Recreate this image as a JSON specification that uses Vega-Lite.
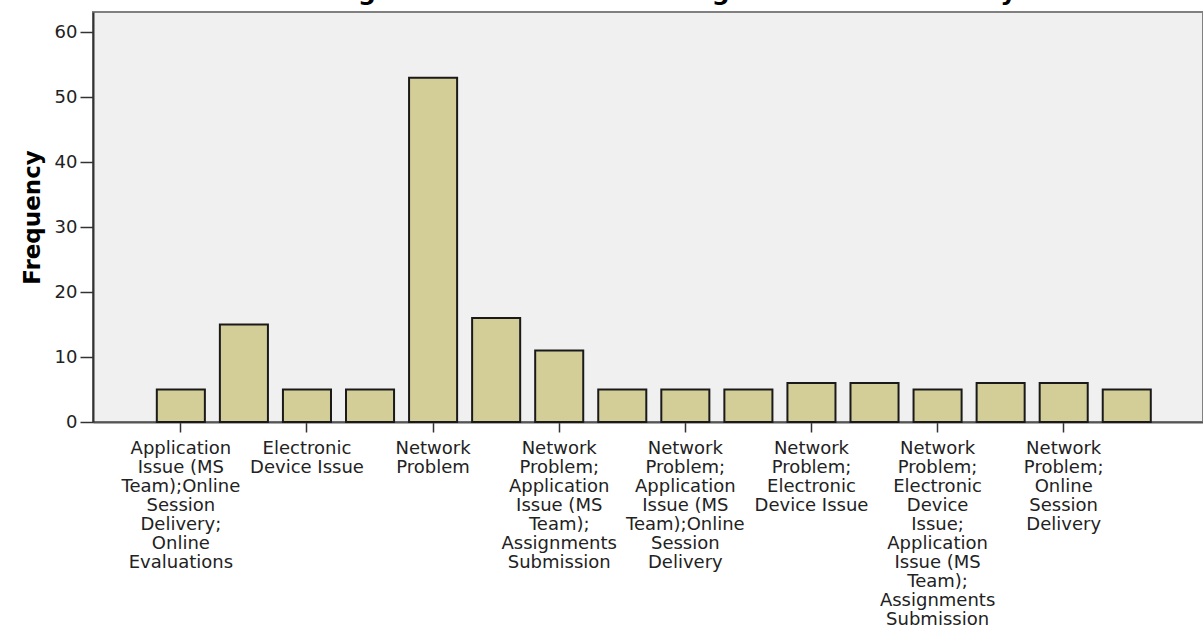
{
  "$schema": "https://vega.github.io/schema/vega-lite/v6.json",
  "autosize": {"type": "none"},
  "padding": {"left": 93, "top": 12, "right": 0, "bottom": 205},
  "width": 1110,
  "height": 410,
  "background": "white",
  "title": {
    "text": "B. What are the challenges or issues faced during online sessions at your end?",
    "font": "DejaVu Sans",
    "fontWeight": "bold",
    "fontSize": 25,
    "color": "#000000",
    "anchor": "middle",
    "baseline": "alphabetic",
    "offset": -13,
    "dx": -65
  },
  "data": {
    "values": [
      {"challenge": "Application\nIssue (MS\nTeam);Online\nSession\nDelivery;\nOnline\nEvaluations", "frequency": 5},
      {"challenge": "Assignments\nSubmission", "frequency": 15},
      {"challenge": "Electronic\nDevice Issue", "frequency": 5},
      {"challenge": "Electronic\nDevice Issue;\nOnline\nSession\nDelivery", "frequency": 5},
      {"challenge": "Network\nProblem", "frequency": 53},
      {"challenge": "Network\nProblem;\nApplication\nIssue (MS\nTeam)", "frequency": 16},
      {"challenge": "Network\nProblem;\nApplication\nIssue (MS\nTeam);\nAssignments\nSubmission", "frequency": 11},
      {"challenge": "Network\nProblem;\nApplication\nIssue (MS\nTeam);Online\nEvaluations", "frequency": 5},
      {"challenge": "Network\nProblem;\nApplication\nIssue (MS\nTeam);Online\nSession\nDelivery", "frequency": 5},
      {"challenge": "Network\nProblem;\nAssignments\nSubmission", "frequency": 5},
      {"challenge": "Network\nProblem;\nElectronic\nDevice Issue", "frequency": 6},
      {"challenge": "Network\nProblem;\nElectronic\nDevice\nIssue;\nApplication\nIssue (MS\nTeam)", "frequency": 6},
      {"challenge": "Network\nProblem;\nElectronic\nDevice\nIssue;\nApplication\nIssue (MS\nTeam);\nAssignments\nSubmission", "frequency": 5},
      {"challenge": "Network\nProblem;\nOnline\nEvaluations", "frequency": 6},
      {"challenge": "Network\nProblem;\nOnline\nSession\nDelivery", "frequency": 6},
      {"challenge": "Network\nProblem;\nOnline\nSession\nDelivery;\nOnline\nEvaluations", "frequency": 5}
    ]
  },
  "mark": {"type": "bar", "fill": "#D3CE97", "stroke": "#1a1a1a", "strokeWidth": 2},
  "encoding": {
    "x": {
      "field": "challenge",
      "type": "nominal",
      "sort": null,
      "scale": {"paddingInner": 0.238, "paddingOuter": 0.92, "align": 0.55},
      "axis": {
        "title": null,
        "labelAngle": 0,
        "labelAlign": "center",
        "labelBaseline": "top",
        "labelFont": "DejaVu Sans",
        "labelFontSize": 18,
        "labelLineHeight": 19,
        "labelColor": "#222222",
        "labelLimit": 0,
        "labelOverlap": false,
        "labelPadding": 7,
        "labelExpr": "round(datum.index * 15) % 2 == 1 ? '' : split(datum.value, '\\n')",
        "tickSize": 10,
        "tickWidth": 1.5,
        "tickColor": "#333333",
        "tickOpacity": {"condition": {"test": "round(datum.index * 15) % 2 == 1", "value": 0}, "value": 1},
        "domainColor": "#555555",
        "domainWidth": 2
      }
    },
    "y": {
      "field": "frequency",
      "type": "quantitative",
      "scale": {"domain": [0, 63.1], "nice": false, "zero": true},
      "axis": {
        "title": "Frequency",
        "titleFont": "DejaVu Sans",
        "titleFontSize": 23,
        "titleFontWeight": "bold",
        "titleColor": "#000000",
        "titlePadding": 10,
        "values": [0, 10, 20, 30, 40, 50, 60],
        "labelFont": "DejaVu Sans",
        "labelFontSize": 18,
        "labelColor": "#222222",
        "labelPadding": 3,
        "tickSize": 13,
        "tickWidth": 1.5,
        "tickColor": "#333333",
        "domainColor": "#333333",
        "domainWidth": 2,
        "grid": false
      }
    }
  },
  "config": {
    "view": {"fill": "#F0F0F0", "stroke": "#808080", "strokeWidth": 2}
  }
}
